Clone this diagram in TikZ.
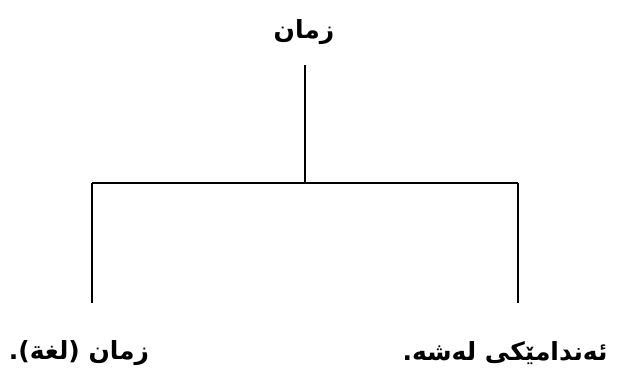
\documentclass[tikz,border=0pt]{standalone}
\usepackage{fontspec}
\TeXXeTstate=1
\newfontfamily\arabicfont[Script=Arabic]{DejaVu Sans Bold}
\begin{document}
\begin{tikzpicture}[x=1pt,y=-1pt,
  lbl/.style={font=\arabicfont\fontsize{25}{30}\selectfont, inner sep=0pt},
  conn/.style={line width=1.3pt, black}]
\useasboundingbox (0,0) rectangle (619,381);
\node[lbl] (top) at (304,32) {\beginR زمان\endR};
\node[lbl] (left) at (79,353) {\beginR زمان (لغة).\endR};
\node[lbl] (right) at (505,353) {\beginR ئەندامێکی لەشە.\endR};
\coordinate (t1) at (305,65);
\coordinate (j) at (305,183);
\coordinate (hl) at (92,183);
\coordinate (hr) at (518,183);
\coordinate (l2) at (92,303);
\coordinate (r2) at (518,303);
\draw[conn] (t1) -- (j);
\draw[conn] (hl) -- (hr);
\draw[conn] (hl) -- (l2);
\draw[conn] (hr) -- (r2);
\end{tikzpicture}
\end{document}
